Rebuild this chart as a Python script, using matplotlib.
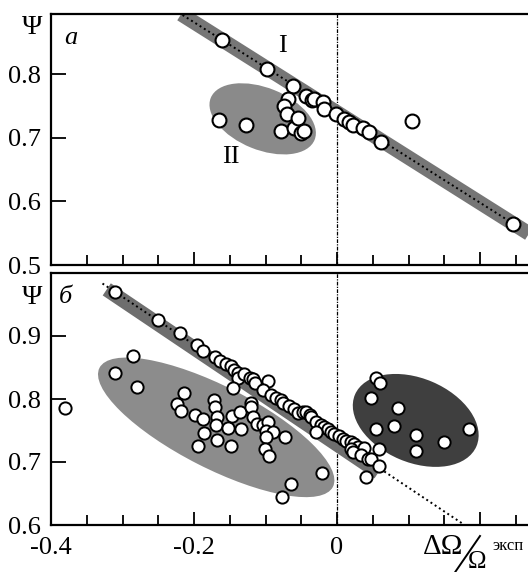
import numpy as np
import matplotlib.pyplot as plt
from matplotlib.patches import Ellipse
from matplotlib.transforms import ScaledTranslation


# ==============================
# 1. Data
# ==============================

# panel "a"
top_x = [-0.161, -0.098, -0.061, -0.069, -0.074, -0.043, -0.035, -0.032, -0.020,
         -0.018, -0.002, 0.010, 0.017, 0.022, 0.036, 0.045, 0.062, 0.105, 0.246,
         -0.165, -0.127, -0.079, -0.070, -0.060, -0.054, -0.050, -0.046]
top_y = [0.854, 0.808, 0.782, 0.762, 0.751, 0.766, 0.759, 0.762, 0.756,
         0.746, 0.737, 0.729, 0.725, 0.721, 0.715, 0.710, 0.693, 0.727, 0.565,
         0.728, 0.720, 0.711, 0.737, 0.716, 0.732, 0.707, 0.711]

# panel "б": points along the band
band_x = [-0.311, -0.250, -0.220, -0.196, -0.187, -0.171, -0.163, -0.155, -0.148,
          -0.144, -0.139, -0.138, -0.145, -0.130, -0.122, -0.118, -0.115, -0.097,
          -0.103, -0.092, -0.085, -0.078, -0.075, -0.067, -0.060, -0.055, -0.048,
          -0.043, -0.038, -0.036, -0.030, -0.022, -0.018, -0.013, -0.029, -0.008,
          -0.004, 0.003, 0.008, 0.013, 0.020, 0.024, 0.029, 0.038, 0.019, 0.022,
          0.034, 0.043, 0.048, 0.059, 0.040, 0.059]
band_y = [0.970, 0.926, 0.904, 0.886, 0.876, 0.867, 0.860, 0.856, 0.852,
          0.846, 0.842, 0.833, 0.818, 0.839, 0.834, 0.831, 0.825, 0.828,
          0.814, 0.807, 0.802, 0.799, 0.794, 0.789, 0.784, 0.778, 0.780,
          0.780, 0.774, 0.772, 0.764, 0.759, 0.755, 0.753, 0.748, 0.748,
          0.744, 0.742, 0.737, 0.733, 0.732, 0.729, 0.724, 0.723, 0.721, 0.716,
          0.711, 0.705, 0.704, 0.693, 0.676, 0.721]

# panel "б": lower-left cloud
left_x = [-0.381, -0.311, -0.285, -0.280, -0.214, -0.224, -0.218, -0.199, -0.187,
          -0.172, -0.171, -0.168, -0.169, -0.186, -0.168, -0.195, -0.153, -0.147,
          -0.136, -0.135, -0.148, -0.120, -0.121, -0.117, -0.112, -0.103, -0.097,
          -0.099, -0.089, -0.100, -0.101, -0.095, -0.073, -0.021, -0.065, -0.077]
left_y = [0.786, 0.841, 0.868, 0.819, 0.810, 0.792, 0.781, 0.775, 0.769,
          0.798, 0.788, 0.771, 0.759, 0.746, 0.735, 0.725, 0.754, 0.773,
          0.780, 0.753, 0.725, 0.794, 0.788, 0.772, 0.761, 0.759, 0.764,
          0.750, 0.748, 0.740, 0.721, 0.709, 0.740, 0.683, 0.665, 0.645]

# panel "б": right cloud
right_x = [0.055, 0.060, 0.048, 0.085, 0.055, 0.080, 0.110, 0.110, 0.150, 0.185]
right_y = [0.834, 0.826, 0.802, 0.786, 0.753, 0.757, 0.743, 0.718, 0.731, 0.752]

# fitted lines  y = a + b*x
top_line = [0.740, -0.710]
bot_line = [0.735, -0.757]
bot_band = [0.728, -0.764]

# shaded regions: centre (data), width, height (px), angle (deg)
ell_top = [-0.104, 0.730, 112, 62, -22]
ell_left = [-0.169, 0.755, 262, 82, -27]
ell_right = [0.110, 0.766, 132, 84, -23]


# ==============================
# 2. Style
# ==============================

plt.rcParams['font.family'] = ['Liberation Serif', 'DejaVu Serif']

W, H = 528, 572
fig = plt.figure(figsize=(W / 100, H / 100), dpi=100)
ax1 = fig.add_axes([51 / W, 1 - 265 / H, (W - 51) / W, 251 / H])
ax2 = fig.add_axes([51 / W, 1 - 525 / H, (W - 51) / W, 252 / H])


def add_ellipse(ax, e, color):
    cx, cy, w, h, ang = e
    tr = fig.dpi_scale_trans + ScaledTranslation(cx, cy, ax.transData)
    ax.add_patch(Ellipse((0, 0), w / 100, h / 100, angle=ang, transform=tr,
                         facecolor=color, edgecolor='none', zorder=1))


def style_axes(ax, ylim, yticks):
    ax.set_xlim(-0.4, 0.267)
    ax.set_ylim(*ylim)
    ax.set_yticks(yticks)
    ax.set_xticks([-0.4, -0.2, 0, 0.2])
    ax.set_xticks(np.arange(-0.35, 0.26, 0.05), minor=True)
    ax.tick_params(axis='x', which='major', direction='in', length=9.5, width=1.3,
                   labelsize=19, pad=9, top=False)
    ax.tick_params(axis='x', which='minor', direction='in', length=7.5, width=1.3,
                   top=False)
    ax.tick_params(axis='y', direction='in', length=11, width=1.3, labelsize=19,
                   pad=7, right=False)
    for s in ['left', 'bottom', 'top']:
        ax.spines[s].set_linewidth(1.6)
    ax.spines['right'].set_visible(False)
    ax.axvline(0, color='black', lw=0.9, ls=(0, (3, 1, 1, 1)), zorder=1.5)


marker = dict(ls='none', marker='o', mfc='white', mec='black', zorder=4)

# ==============================
# 3. Panel a
# ==============================

style_axes(ax1, (0.5, 0.895), [0.5, 0.6, 0.7, 0.8])
ax1.set_xticklabels([])

xs = np.array([-0.218, 0.3])
ax1.plot(xs, top_line[0] + top_line[1] * xs, color='#767676', lw=10.5,
         solid_capstyle='butt', zorder=2)
xs = np.array([-0.228, 0.25])
ax1.plot(xs, top_line[0] + top_line[1] * xs, color='black', lw=1.4,
         ls=(0, (1, 1.6)), zorder=3)
add_ellipse(ax1, ell_top, '#8a8a8a')
ax1.plot(top_x, top_y, ms=10, mew=1.5, **marker)

ax1.text(-0.076, 0.845, 'I', fontsize=19, ha='center', va='center')
ax1.text(-0.148, 0.670, 'II', fontsize=19, ha='center', va='center')
ax1.text(0.042, 0.905, 'a', transform=ax1.transAxes, fontsize=19,
         style='italic', ha='center', va='center')

# ==============================
# 4. Panel б
# ==============================

style_axes(ax2, (0.6, 1.0), [0.6, 0.7, 0.8, 0.9])
ax2.set_xticklabels(['-0.4', '-0.2', '0', ''])

add_ellipse(ax2, ell_left, '#8c8c8c')
add_ellipse(ax2, ell_right, '#3f3f3f')
xs = np.array([-0.322, 0.058])
ax2.plot(xs, bot_band[0] + bot_band[1] * xs, color='#6e6e6e', lw=10.5,
         solid_capstyle='butt', zorder=2)
xs = np.array([-0.328, 0.178])
ax2.plot(xs, bot_line[0] + bot_line[1] * xs, color='black', lw=1.4,
         ls=(0, (1, 1.6)), zorder=3)
ax2.plot(band_x, band_y, ms=8.8, mew=1.4, **marker)
ax2.plot(left_x, left_y, ms=8.8, mew=1.4, **marker)
ax2.plot(right_x, right_y, ms=8.8, mew=1.4, **marker)

ax2.text(0.031, 0.905, 'б', transform=ax2.transAxes, fontsize=19,
         style='italic', ha='center', va='center')

# ==============================
# 5. Labels outside the axes
# ==============================

fig.text(32 / W, 1 - 27 / H, 'Ψ', fontsize=20, ha='center', va='center')
fig.text(32 / W, 1 - 298 / H, 'Ψ', fontsize=20, ha='center', va='center')

fig.text(443 / W, 1 - 547 / H, 'ΔΩ', fontsize=21, ha='center', va='center')
fig.text(477 / W, 1 - 562 / H, 'Ω', fontsize=18, ha='center', va='center')
fig.text(508 / W, 1 - 546 / H, 'эксп', fontsize=12, ha='center', va='center')
fig.add_artist(plt.Line2D([449 / W, 480 / W], [1 - 581 / H, 1 - 536 / H],
                          color='black', lw=1.4))

fig.savefig('out.png', dpi=100)
